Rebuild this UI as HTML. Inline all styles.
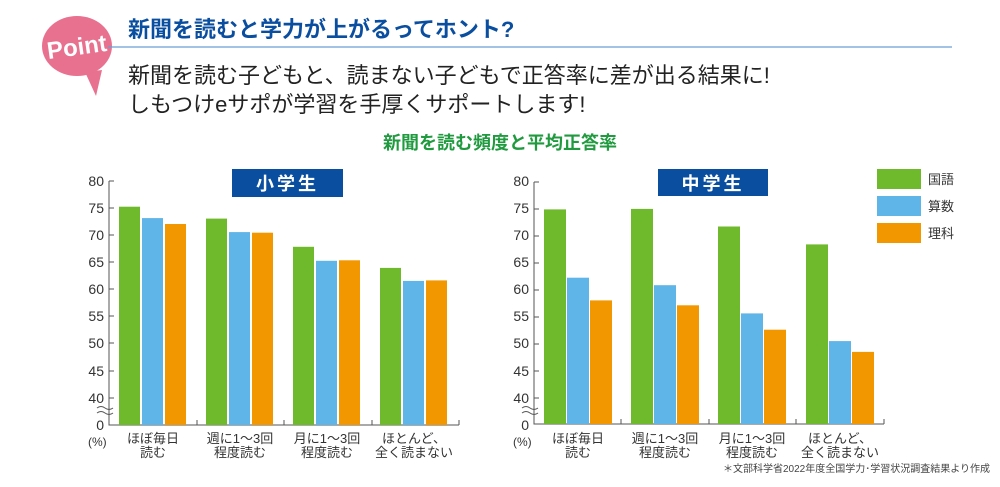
<!DOCTYPE html>
<html><head><meta charset="utf-8"><style>
body{margin:0;background:#fff;}
svg text{font-family:"Liberation Sans","Noto Sans CJK JP",sans-serif;}
</style></head><body>
<svg width="1000" height="482" viewBox="0 0 1000 482" xmlns="http://www.w3.org/2000/svg">
<rect width="1000" height="482" fill="#fff"/>
<path d="M85 72 L96 96 L102 70 Z" fill="#e8718f"/>
<ellipse cx="77" cy="46" rx="35" ry="30" fill="#e8718f"/>
<text x="77" y="55" text-anchor="middle" font-size="24" font-weight="bold" fill="#fff" transform="rotate(-8 77 48)">Point</text>
<text x="128" y="37" font-size="22" font-weight="bold" fill="#0a4ea0">新聞を読むと学力が上がるってホント?</text>
<line x1="108" y1="47" x2="952" y2="47" stroke="#6a9fd4" stroke-width="1.2"/>
<text x="128" y="83" font-size="22" fill="#222">新聞を読む子どもと、読まない子どもで正答率に差が出る結果に!</text>
<text x="128" y="112" font-size="22" fill="#222">しもつけeサポが学習を手厚くサポートします!</text>
<text x="500" y="149" text-anchor="middle" font-size="18" font-weight="bold" fill="#1f9a3e">新聞を読む頻度と平均正答率</text>

<g font-size="14" fill="#333" text-anchor="end">
<text x="104" y="186">80</text><text x="104" y="213">75</text><text x="104" y="240">70</text><text x="104" y="267">65</text><text x="104" y="294">60</text><text x="104" y="321">55</text><text x="104" y="348">50</text><text x="104" y="376">45</text><text x="104" y="403">40</text><text x="104" y="430">0</text>
<text x="529" y="186">80</text><text x="529" y="213">75</text><text x="529" y="240">70</text><text x="529" y="267">65</text><text x="529" y="294">60</text><text x="529" y="321">55</text><text x="529" y="348">50</text><text x="529" y="376">45</text><text x="529" y="403">40</text><text x="529" y="430">0</text>
</g>
<g font-size="12" fill="#333"><text x="88" y="446">(%)</text><text x="513" y="446">(%)</text></g>
<g stroke="#555" stroke-width="1" fill="none">
<path d="M109 181 V425 H459"/>
<path d="M109 181h5M109 208h5M109 235h5M109 262h5M109 289h5M109 316h5M109 343h5M109 371h5M109 398h5"/>
<path d="M197 425v-5M284 425v-5M372 425v-5M459 425v-5"/>
<path d="M534 182 V424 H884"/>
<path d="M534 182h5M534 209h5M534 236h5M534 263h5M534 290h5M534 317h5M534 344h5M534 371h5M534 398h5"/>
<path d="M621 424v-5M709 424v-5M796 424v-5M884 424v-5"/>
<path d="M97 408 q4 -3 8 0 t8 0 M97 413 q4 -3 8 0 t8 0"/>
<path d="M522 408 q4 -3 8 0 t8 0 M522 413 q4 -3 8 0 t8 0"/>
</g>
<g>
<rect x="119" y="206.7" width="21" height="218.3" fill="#6fb92c"/>
<rect x="142" y="218.1" width="21" height="206.9" fill="#5fb4e8"/>
<rect x="165" y="224.0" width="21" height="201" fill="#f39700"/>
<rect x="206" y="218.6" width="21" height="206.4" fill="#6fb92c"/>
<rect x="229" y="232.1" width="21" height="192.9" fill="#5fb4e8"/>
<rect x="252" y="232.7" width="21" height="192.3" fill="#f39700"/>
<rect x="293" y="246.8" width="21" height="178.2" fill="#6fb92c"/>
<rect x="316" y="260.8" width="21" height="164.2" fill="#5fb4e8"/>
<rect x="339" y="260.3" width="21" height="164.7" fill="#f39700"/>
<rect x="380" y="267.9" width="21" height="157.1" fill="#6fb92c"/>
<rect x="403" y="280.9" width="21" height="144.1" fill="#5fb4e8"/>
<rect x="426" y="280.4" width="21" height="144.6" fill="#f39700"/>
</g>
<g>
<rect x="544" y="209.4" width="22" height="214.6" fill="#6fb92c"/>
<rect x="567" y="277.7" width="22" height="146.3" fill="#5fb4e8"/>
<rect x="590" y="300.4" width="22" height="123.6" fill="#f39700"/>
<rect x="631" y="208.9" width="22" height="215.1" fill="#6fb92c"/>
<rect x="654" y="285.2" width="22" height="138.8" fill="#5fb4e8"/>
<rect x="677" y="305.3" width="22" height="118.7" fill="#f39700"/>
<rect x="718" y="226.5" width="22" height="197.5" fill="#6fb92c"/>
<rect x="741" y="313.4" width="22" height="110.6" fill="#5fb4e8"/>
<rect x="764" y="329.7" width="22" height="94.3" fill="#f39700"/>
<rect x="806" y="244.4" width="22" height="179.6" fill="#6fb92c"/>
<rect x="829" y="341.1" width="22" height="82.9" fill="#5fb4e8"/>
<rect x="852" y="351.9" width="22" height="72.1" fill="#f39700"/>
</g>
<g font-size="13" fill="#333" text-anchor="middle">
<text x="153" y="443">ほぼ毎日</text><text x="153" y="457">読む</text>
<text x="240" y="443">週に1～3回</text><text x="240" y="457">程度読む</text>
<text x="327" y="443">月に1～3回</text><text x="327" y="457">程度読む</text>
<text x="414" y="443">ほとんど、</text><text x="414" y="457">全く読まない</text>
<text x="578" y="443">ほぼ毎日</text><text x="578" y="457">読む</text>
<text x="665" y="443">週に1～3回</text><text x="665" y="457">程度読む</text>
<text x="752" y="443">月に1～3回</text><text x="752" y="457">程度読む</text>
<text x="840" y="443">ほとんど、</text><text x="840" y="457">全く読まない</text>
</g>
<rect x="232" y="169" width="111" height="28" fill="#0a4ea0"/>
<text x="287.5" y="190" text-anchor="middle" font-size="18" font-weight="bold" fill="#fff" letter-spacing="3">小学生</text>
<rect x="658" y="169" width="110" height="27" fill="#0a4ea0"/>
<text x="713" y="190" text-anchor="middle" font-size="18" font-weight="bold" fill="#fff" letter-spacing="3">中学生</text>
<rect x="877" y="169" width="44" height="20" fill="#6fb92c"/>
<rect x="877" y="196" width="44" height="20" fill="#5fb4e8"/>
<rect x="877" y="223" width="44" height="20" fill="#f39700"/>
<g font-size="13" fill="#333"><text x="928" y="184">国語</text><text x="928" y="211">算数</text><text x="928" y="238">理科</text></g>
<text x="990" y="472" text-anchor="end" font-size="10" fill="#444">＊文部科学省2022年度全国学力･学習状況調査結果より作成</text>
</svg>
</body></html>
